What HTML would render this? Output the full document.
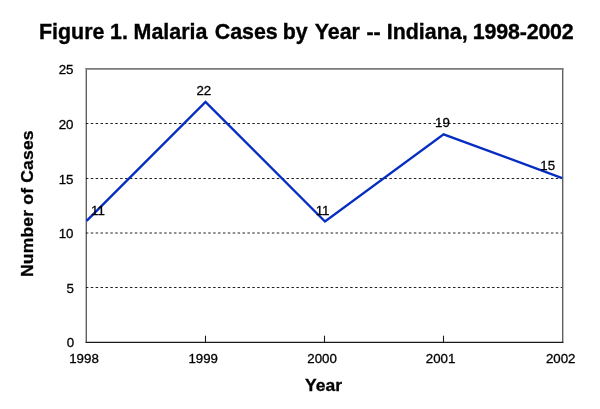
<!DOCTYPE html>
<html>
<head>
<meta charset="utf-8">
<style>
html,body{margin:0;padding:0;background:#fff;}
body{width:600px;height:409px;overflow:hidden;position:relative;}
svg{position:absolute;left:0;top:0;}
text{font-family:"Liberation Sans",Arial,sans-serif;fill:#000;}
.t{font-weight:bold;font-size:21.4px;stroke:#000;stroke-width:0.35px;}
.ax{font-weight:bold;font-size:17.5px;stroke:#000;stroke-width:0.3px;}
.n{font-size:13.3px;stroke:#000;stroke-width:0.3px;}
</style>
</head>
<body>
<svg width="600" height="409" viewBox="0 0 600 409">
  <!-- title -->
  <text class="t" y="39"><tspan x="39">Figure </tspan><tspan x="110">1. </tspan><tspan x="133.6">Malaria </tspan><tspan x="214.7">Cases </tspan><tspan x="282.7">by </tspan><tspan x="314.7">Year </tspan><tspan x="366.5">-- </tspan><tspan x="386.8">Indiana, </tspan><tspan x="472.8" letter-spacing="-0.17">1998-2002</tspan></text>

  <!-- plot frame -->
  <g fill="none">
    <line x1="86.3" y1="68.1" x2="86.3" y2="342.5" stroke="#606060" stroke-width="1.4"/>
    <line x1="562.7" y1="68.1" x2="562.7" y2="342.5" stroke="#606060" stroke-width="1.4"/>
    <line x1="85.6" y1="68.9" x2="563.4" y2="68.9" stroke="#7a7a7a" stroke-width="1.7"/>
    <line x1="85.6" y1="342.4" x2="563.4" y2="342.4" stroke="#1a1a1a" stroke-width="1.2"/>
    <!-- ticks -->
    <line x1="205.5" y1="335.7" x2="205.5" y2="342" stroke="#1a1a1a" stroke-width="1.1"/>
    <line x1="324.5" y1="335.7" x2="324.5" y2="342" stroke="#1a1a1a" stroke-width="1.1"/>
    <line x1="443.5" y1="335.7" x2="443.5" y2="342" stroke="#1a1a1a" stroke-width="1.1"/>
  </g>

  <!-- gridlines -->
  <g stroke="#222" stroke-width="1" stroke-dasharray="2.5 2.395">
    <line x1="85.86" y1="123.5" x2="562" y2="123.5"/>
    <line x1="85.86" y1="178.5" x2="562" y2="178.5"/>
    <line x1="85.86" y1="233" x2="562" y2="233"/>
    <line x1="85.86" y1="287.5" x2="562" y2="287.5"/>
  </g>

  <!-- data line -->
  <polyline points="86.6,220.9 205.5,101.9 325.0,221.5 443.6,134.3 562.2,178.1" fill="none" stroke="#062dc2" stroke-width="2.35" stroke-linejoin="miter"/>

  <!-- y labels -->
  <g class="n" text-anchor="end">
    <text x="73.5" y="73.95">25</text>
    <text x="73.5" y="128.9">20</text>
    <text x="73.5" y="183.6">15</text>
    <text x="73.5" y="238.05">10</text>
    <text x="74.0" y="292.55">5</text>
    <text x="74.1" y="347.15">0</text>
  </g>

  <!-- x labels -->
  <g class="n" text-anchor="middle">
    <text x="84" y="362.55">1998</text>
    <text x="203.2" y="362.55">1999</text>
    <text x="322.1" y="362.55">2000</text>
    <text x="440.6" y="362.55">2001</text>
    <text x="560.7" y="362.55">2002</text>
  </g>

  <!-- data labels -->
  <g class="n" text-anchor="middle">
    <text x="98" y="214.7">11</text>
    <text x="203.8" y="94.7">22</text>
    <text x="322.6" y="214.6">11</text>
    <text x="442.5" y="127.2">19</text>
    <text x="547.7" y="170.4">15</text>
  </g>

  <!-- axis titles -->
  <text class="ax" transform="translate(323.5,390.6) scale(1,0.95)" text-anchor="middle">Year</text>
  <text class="ax" transform="translate(33.4,203.6) rotate(-90) scale(1,0.95)" text-anchor="middle" letter-spacing="0.2">Number of Cases</text>
</svg>
</body>
</html>
